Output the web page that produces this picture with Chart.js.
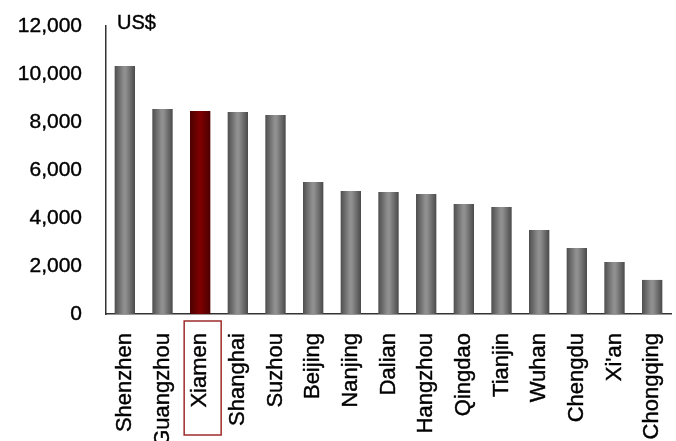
<!DOCTYPE html>
<html>
<head>
<meta charset="utf-8">
<script src="https://cdn.jsdelivr.net/npm/chart.js@4"></script>
<style>
  html, body { margin: 0; padding: 0; background: #fff; overflow: hidden; }
</style>
</head>
<body>
<canvas id="chart" width="676" height="441"></canvas>
<script>
const cities = ["Shenzhen", "Guangzhou", "Xiamen", "Shanghai", "Suzhou", "Beijing", "Nanjing", "Dalian",
    "Hangzhou", "Qingdao", "Tianjin", "Wuhan", "Chengdu", "Xi'an", "Chongqing"]
const gdpPerCapita = [10330, 8540, 8460, 8420, 8290, 5500, 5125, 5080, 5000, 4580, 4460, 3500, 2750, 2170, 1420]
const yTicks = [0, 2000, 4000, 6000, 8000, 10000, 12000]
const highlight = "Xiamen"
const unitLabel = "US$"

const container = document.getElementById("chart")
const FONT = "'Liberation Sans', Arial, sans-serif"
const barPct = 0.54

// cylinder-like shading: dark edges, light middle
function barFill(context) {
    const chart = context.chart
    const x = chart.scales.x
    if (!x || !chart.chartArea) return "#777777"
    const i = context.dataIndex
    const center = x.getPixelForValue(i)
    const half = (x.width / cities.length) * barPct / 2
    const g = chart.ctx.createLinearGradient(center - half, 0, center + half, 0)
    if (cities[i] === highlight) {
        g.addColorStop(0, "#4a0000")
        g.addColorStop(0.45, "#7c0000")
        g.addColorStop(0.55, "#7c0000")
        g.addColorStop(1, "#4a0000")
    } else {
        g.addColorStop(0, "#4e4e4e")
        g.addColorStop(0.45, "#8f8f8f")
        g.addColorStop(0.55, "#8f8f8f")
        g.addColorStop(1, "#4a4a4a")
    }
    return g
}

const extras = {
    id: "extras",
    afterDraw(chart) {
        const ctx = chart.ctx
        const x = chart.scales.x
        const area = chart.chartArea
        ctx.save()
        // unit label
        ctx.font = "20px " + FONT
        ctx.fillStyle = "#000"
        ctx.strokeStyle = "#000"
        ctx.lineWidth = 0.4
        ctx.textAlign = "left"
        ctx.textBaseline = "alphabetic"
        ctx.fillText(unitLabel, area.left + 11, area.top + 3)
        ctx.strokeText(unitLabel, area.left + 11, area.top + 3)
        // box round the highlighted label
        const c = x.getPixelForValue(cities.indexOf(highlight))
        ctx.strokeStyle = "#9e2b2b"
        ctx.lineWidth = 1.5
        ctx.strokeRect(c - 16, area.bottom + 7, 37, 114)
        ctx.restore()
    }
}

const config = {
    type: "bar",
    data: {
        labels: cities,
        datasets: [{
            data: gdpPerCapita,
            backgroundColor: barFill,
            borderWidth: 0,
            barPercentage: barPct,
            categoryPercentage: 1
        }]
    },
    options: {
        responsive: false,
        animation: false,
        devicePixelRatio: 1,
        layout: { padding: { top: 26, right: 5, left: 0, bottom: 0 } },
        plugins: { legend: { display: false }, tooltip: { enabled: false } },
        scales: {
            x: {
                grid: { display: false, drawTicks: false },
                border: { display: true, color: "#333333", width: 1.5 },
                ticks: {
                    autoSkip: false,
                    minRotation: 90,
                    maxRotation: 90,
                    padding: 19,
                    color: "#000",
                    textStrokeColor: "#000",
                    textStrokeWidth: 0.4,
                    font: { family: FONT, size: 22 }
                },
                afterFit: (scale) => {
                    scale.height = 127
                    scale.paddingLeft = 0
                    scale.paddingRight = 0
                }
            },
            y: {
                min: 0,
                max: 12000,
                afterBuildTicks: (scale) => { scale.ticks = yTicks.map(v => ({ value: v })) },
                grid: { display: false, drawTicks: false },
                border: { display: true, color: "#333333", width: 1.5 },
                ticks: {
                    padding: 24,
                    color: "#000",
                    textStrokeColor: "#000",
                    textStrokeWidth: 0.4,
                    font: { family: FONT, size: 21 },
                    callback: (v) => v.toLocaleString("en-US")
                },
                afterFit: (scale) => {
                    scale.width = 106
                    scale.paddingTop = 0
                    scale.paddingBottom = 0
                }
            }
        }
    },
    plugins: [extras]
}

const myChart = new Chart(container, config)
</script>
</body>
</html>
